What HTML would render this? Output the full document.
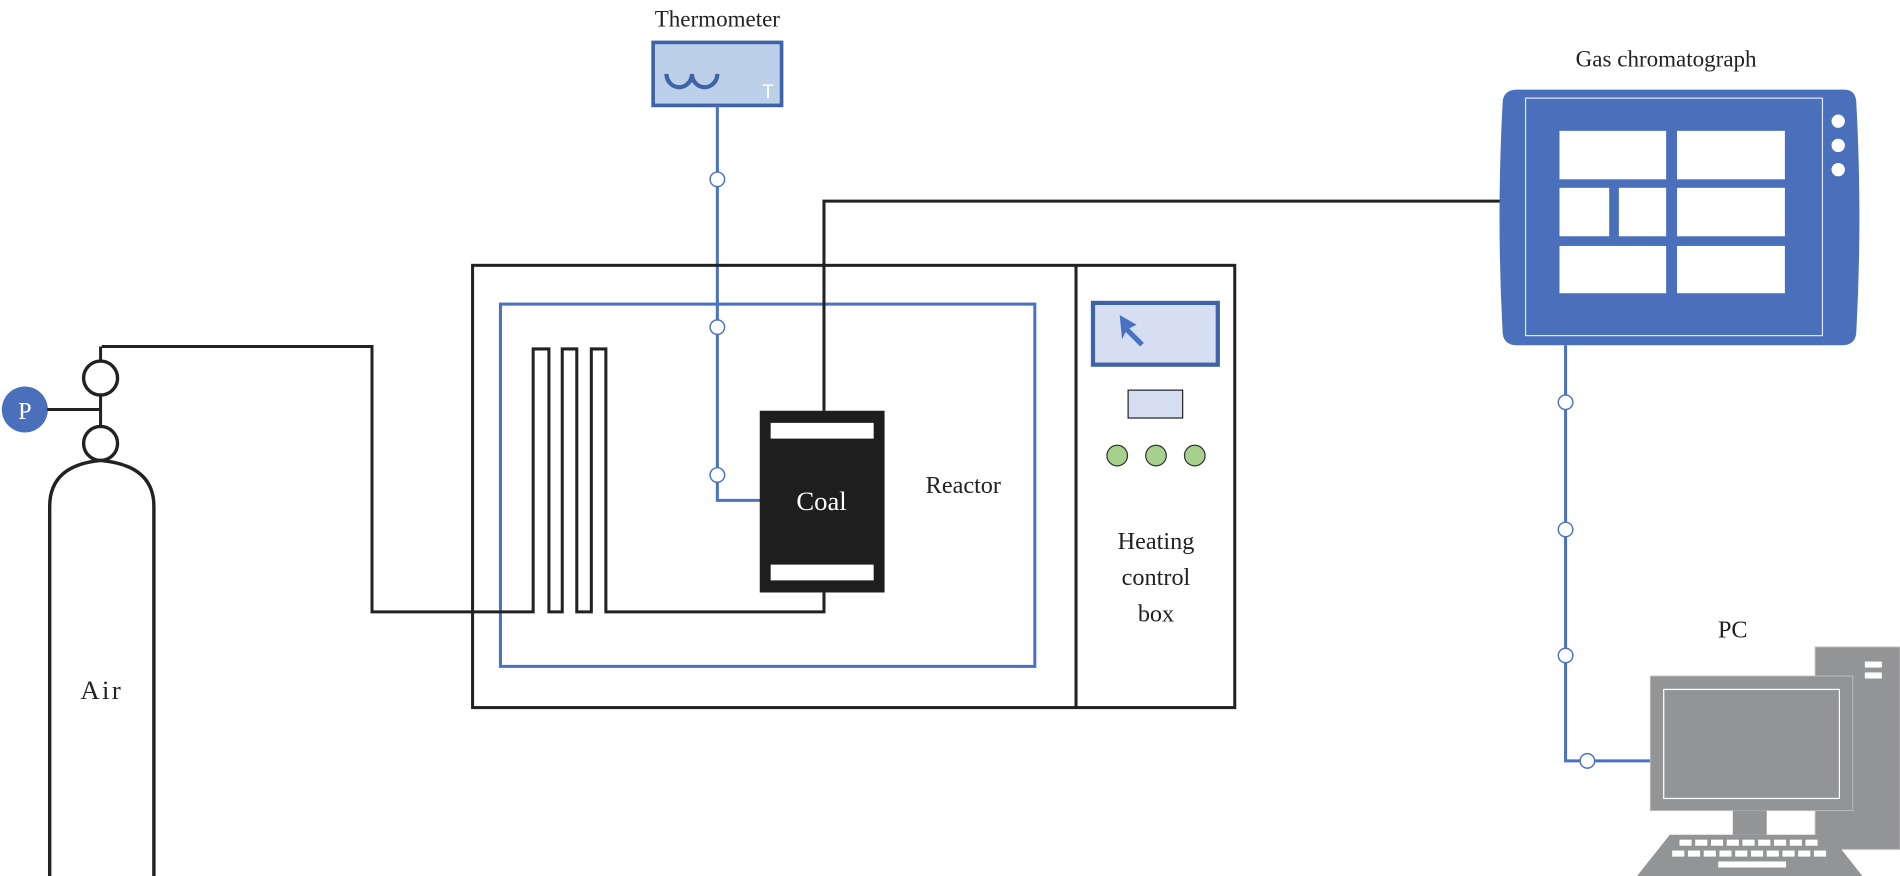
<!DOCTYPE html>
<html><head><meta charset="utf-8"><style>
html,body{margin:0;padding:0;background:#fff;}
svg{display:block;}
text{font-family:"Liberation Serif",serif;}
</style></head><body>
<svg width="1900" height="876" viewBox="0 0 1568 723" preserveAspectRatio="none" xmlns="http://www.w3.org/2000/svg">
<rect width="1568" height="723" fill="#fff"/>
<!-- Thermometer -->
<text x="592" y="22" font-size="19" text-anchor="middle" fill="#222">Thermometer</text>
<rect x="539" y="35" width="106" height="52" fill="#bdd0ea" stroke="#3f63a8" stroke-width="3"/>
<path d="M550 61 a10.5 11 0 0 0 21 0 a10.5 11 0 0 0 21 0" fill="none" stroke="#3f63a8" stroke-width="3.5"/>
<text x="629" y="81" font-size="16" fill="#fff" style="font-family:'Liberation Sans',sans-serif">T</text>
<!-- blue thermo line -->
<polyline points="592,87 592,413 628,413" fill="none" stroke="#4a72c4" stroke-width="2.5"/>
<g fill="#fff" stroke="#4a72c4" stroke-width="1.2">
<circle cx="592" cy="148" r="6"/><circle cx="592" cy="270" r="6"/><circle cx="592" cy="392" r="6"/>
</g>
<!-- Reactor -->
<rect x="390" y="219" width="629" height="365" fill="none" stroke="#222" stroke-width="2.5"/>
<line x1="888" y1="219" x2="888" y2="584" stroke="#222" stroke-width="2.5"/>
<rect x="413" y="251" width="441" height="299" fill="none" stroke="#4a72c4" stroke-width="2.5"/>
<!-- gas line -->
<polyline points="84,286 307,286 307,505 440,505 440,288 453,288 453,505 464,505 464,288 476,288 476,505 488,505 488,288 500,288 500,505 680,505 680,489" fill="none" stroke="#222" stroke-width="2.5"/>
<polyline points="680,339 680,166 1240,166" fill="none" stroke="#222" stroke-width="2.5"/>
<!-- Coal -->
<rect x="627" y="339" width="103" height="150" fill="#1e1e1e"/>
<rect x="636" y="349" width="85" height="13" fill="#fff"/>
<rect x="636" y="466" width="85" height="13" fill="#fff"/>
<text x="678" y="421" font-size="22" fill="#fff" text-anchor="middle">Coal</text>
<text x="795" y="407" font-size="20" fill="#222" text-anchor="middle">Reactor</text>
<!-- heating control box -->
<rect x="902" y="250" width="103" height="51" fill="#d6dff2" stroke="#3f63a8" stroke-width="3.5"/>
<path d="M924 260 L938 268 L932 271 L944 283 L941 286 L929 274 L926 280 Z" fill="#4a72c4"/>
<rect x="931" y="322" width="45" height="23" fill="#d6dff2" stroke="#222" stroke-width="1"/>
<g fill="#a8d08d" stroke="#333" stroke-width="1">
<circle cx="922" cy="376" r="8.5"/><circle cx="954" cy="376" r="8.5"/><circle cx="986" cy="376" r="8.5"/>
</g>
<g font-size="20" fill="#222" text-anchor="middle">
<text x="954" y="453">Heating</text><text x="954" y="483">control</text><text x="954" y="513">box</text>
</g>
<!-- Gas cylinder -->
<circle cx="20.5" cy="338" r="19" fill="#4a6fbb"/>
<text x="20.5" y="346" font-size="20" fill="#fff" text-anchor="middle">P</text>
<line x1="39" y1="338" x2="84" y2="338" stroke="#222" stroke-width="2.5"/>
<line x1="83" y1="286" x2="83" y2="380" stroke="#222" stroke-width="2.5"/>
<circle cx="83" cy="312" r="14" fill="#fff" stroke="#222" stroke-width="2.8"/>
<circle cx="83" cy="366" r="14" fill="#fff" stroke="#222" stroke-width="2.8"/>
<path d="M41 723 L41 418 Q41 384 83 380 Q127 384 127 418 L127 723" fill="none" stroke="#222" stroke-width="2.8"/>
<text x="84" y="577" font-size="22" fill="#222" text-anchor="middle" letter-spacing="2">Air</text>
<!-- Gas chromatograph -->
<text x="1375" y="55" font-size="19" fill="#222" text-anchor="middle">Gas chromatograph</text>
<path d="M1252 74 L1522 74 Q1532 74 1532 86 Q1537 180 1532 273 Q1532 285 1520 285 L1252 285 Q1240 285 1240 273 Q1235 180 1240 86 Q1240 74 1252 74 Z" fill="#4a6fbb"/>
<rect x="1259" y="81" width="245" height="196" fill="none" stroke="#dfe6f5" stroke-width="1"/>
<g fill="#fff">
<rect x="1287" y="108" width="88" height="40"/><rect x="1384" y="108" width="89" height="40"/>
<rect x="1287" y="155" width="41" height="40"/><rect x="1336" y="155" width="39" height="40"/><rect x="1384" y="155" width="89" height="40"/>
<rect x="1287" y="203" width="88" height="39"/><rect x="1384" y="203" width="89" height="39"/>
<circle cx="1517" cy="100" r="5.5"/><circle cx="1517" cy="120" r="5.5"/><circle cx="1517" cy="140" r="5.5"/>
</g>
<!-- blue line GC to PC -->
<polyline points="1292,285 1292,628 1362,628" fill="none" stroke="#4a72c4" stroke-width="2.5"/>
<g fill="#fff" stroke="#4a72c4" stroke-width="1.2">
<circle cx="1292" cy="332" r="6"/><circle cx="1292" cy="437" r="6"/><circle cx="1292" cy="541" r="6"/><circle cx="1310" cy="628" r="6"/>
</g>
<!-- PC -->
<text x="1430" y="526" font-size="20" fill="#222" text-anchor="middle">PC</text>
<rect x="1498" y="534" width="70" height="167" fill="#939496" stroke="#bbb" stroke-width="0.8"/>
<rect x="1539" y="546" width="14" height="5" fill="#fff"/><rect x="1539" y="555" width="14" height="5" fill="#fff"/>
<rect x="1362" y="558" width="167" height="111" fill="#939496" stroke="#bbb" stroke-width="0.8"/>
<rect x="1373" y="569" width="145" height="90" fill="none" stroke="#fff" stroke-width="1"/>
<rect x="1430" y="669" width="28" height="20" fill="#939496"/>
<path d="M1378 689 L1510 689 L1537 723 L1351 723 Z" fill="#939496"/>
<g fill="#fff">
<rect x="1386" y="693" width="10" height="5"/><rect x="1399" y="693" width="10" height="5"/><rect x="1412" y="693" width="10" height="5"/><rect x="1425" y="693" width="10" height="5"/><rect x="1438" y="693" width="10" height="5"/><rect x="1451" y="693" width="10" height="5"/><rect x="1464" y="693" width="10" height="5"/><rect x="1477" y="693" width="10" height="5"/><rect x="1490" y="693" width="10" height="5"/>
<rect x="1380" y="702" width="10" height="5"/><rect x="1393" y="702" width="10" height="5"/><rect x="1406" y="702" width="10" height="5"/><rect x="1419" y="702" width="10" height="5"/><rect x="1432" y="702" width="10" height="5"/><rect x="1445" y="702" width="10" height="5"/><rect x="1458" y="702" width="10" height="5"/><rect x="1471" y="702" width="10" height="5"/><rect x="1484" y="702" width="10" height="5"/><rect x="1497" y="702" width="10" height="5"/>
<rect x="1418" y="711" width="56" height="5"/>
</g>
</svg>
</body></html>
